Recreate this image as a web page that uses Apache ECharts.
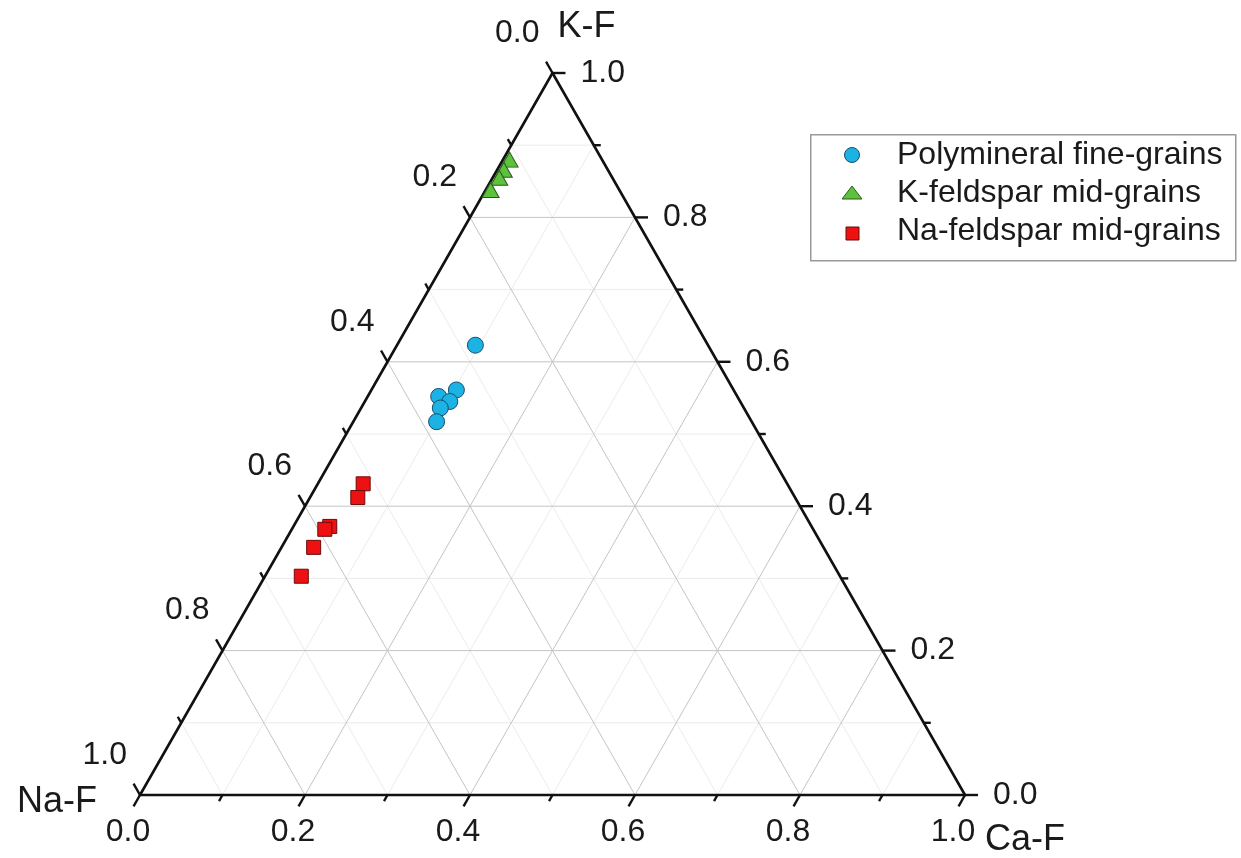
<!DOCTYPE html>
<html><head><meta charset="utf-8">
<script src="https://cdn.jsdelivr.net/npm/echarts@6/dist/echarts.min.js"></script>
<style>html,body{margin:0;padding:0;background:#fff}#c{width:1241px;height:858px}</style>
</head><body><div id="c"></div>
<script>
// Ternary data, each point as [K-F, Na-F, Ca-F]
const polymineral = [[0.623,0.282,0.095],[0.561,0.336,0.103],[0.552,0.362,0.086],[0.545,0.352,0.103],[0.536,0.368,0.096],[0.517,0.382,0.101]];
const kFeldspar = [[0.880,0.112,0.008],[0.866,0.126,0.008],[0.855,0.137,0.008],[0.838,0.156,0.006]];
const naFeldspar = [[0.431,0.514,0.055],[0.412,0.530,0.058],[0.372,0.584,0.044],[0.368,0.592,0.040],[0.343,0.618,0.039],[0.303,0.653,0.044]];
const seriesNames = ['Polymineral fine-grains','K-feldspar mid-grains','Na-feldspar mid-grains'];
const axisTitles = ['K-F','Na-F','Ca-F'];
const tickValues = [0,0.2,0.4,0.6,0.8,1.0];
const tickLabels = ['0.0','0.2','0.4','0.6','0.8','1.0'];
const minorValues = [0.1,0.3,0.5,0.7,0.9];
const gridMajor = [0.2,0.4,0.6,0.8];
const seriesColors = ['#1cb2e4','#5cc23c','#ee1111'];
const seriesBorders = ['#16506e','#2a5a1a','#6a0a0a'];

const FONT = "'Liberation Sans', Arial, sans-serif";
function toXY(k, ca){ return [ca + k/2, k]; }
function toData(arr){ return arr.map(p => toXY(p[0], p[2])); }

const chart = echarts.init(document.getElementById('c'), null, {renderer:'canvas'});

function renderFrame(params, api){
  const P = (k, ca) => api.coord(toXY(k, ca));
  const ch = [];
  const line = (a, b, style) => ch.push({type:'line', shape:{x1:a[0],y1:a[1],x2:b[0],y2:b[1]}, style});
  const text = (x, y, t, align, size) => ch.push({type:'text', x:x, y:y, style:{text:t, fill:'#1a1a1a', fontSize:size, fontFamily:FONT, align:align, verticalAlign:'middle'}});
  const norm = (a, b) => { const dx=b[0]-a[0], dy=b[1]-a[1], l=Math.hypot(dx,dy); return [dx/l, dy/l]; };
  const A = P(0,0), B = P(0,1), C = P(1,0);
  const dBottom = norm(C, A), dRight = norm(A, B), dLeft = norm(B, C);
  const minorStyle = {stroke:'#ececec', lineWidth:1};
  const majorStyle = {stroke:'#c4c4c4', lineWidth:1};
  const drawFamily = (v, style) => {
    line(P(v,0), P(v,1-v), style);        // constant K
    line(P(0,v), P(1-v,v), style);        // constant Ca
    line(P(0,1-v), P(1-v,0), style);      // constant Na
  };
  minorValues.forEach(v => drawFamily(v, minorStyle));
  gridMajor.forEach(v => drawFamily(v, majorStyle));
  const edge = {stroke:'#111', lineWidth:2.6, lineCap:'round'};
  line(A, B, edge); line(B, C, edge); line(C, A, edge);
  const tick = (pt, d, len) => line(pt, [pt[0]+d[0]*len, pt[1]+d[1]*len], {stroke:'#111', lineWidth:2.4});
  tickValues.forEach((v, i) => {
    const pb = P(0, v); tick(pb, dBottom, 13);
    text(pb[0]-12, pb[1]+37, tickLabels[i], 'center', 32);
    const pr = P(v, 1-v); tick(pr, dRight, 13);
    text(pr[0]+28, pr[1], tickLabels[i], 'left', 32);
    const pl = P(1-v, 0); tick(pl, dLeft, 13);
    text(pl[0]-13, pl[1]-40, tickLabels[i], 'right', 32);
  });
  minorValues.forEach(v => {
    tick(P(0, v), dBottom, 7);
    tick(P(v, 1-v), dRight, 7);
    tick(P(1-v, 0), dLeft, 7);
  });
  text(C[0]+5, C[1]-46, axisTitles[0], 'left', 36);
  text(A[0]-43, A[1]+7, axisTitles[1], 'right', 36);
  text(B[0]+20, B[1]+45, axisTitles[2], 'left', 36);
  return {type:'group', children:ch};
}

// Legend box (drawn as graphic elements)
const legendRowsY = [155, 193, 231];
const legendGraphic = [
  {type:'rect', left:810, top:134, shape:{x:0,y:0,width:425,height:126}, style:{fill:'#fff', stroke:'#9a9a9a', lineWidth:1.5}, z:10},
  {type:'circle', shape:{cx:852, cy:legendRowsY[0], r:7.5}, style:{fill:seriesColors[0], stroke:seriesBorders[0], lineWidth:1}, z:11},
  {type:'polygon', shape:{points:[[842,legendRowsY[1]+6],[862,legendRowsY[1]+6],[852,legendRowsY[1]-7]]}, style:{fill:seriesColors[1], stroke:seriesBorders[1], lineWidth:1}, z:11},
  {type:'rect', shape:{x:846, y:legendRowsY[2]-4, width:13, height:13}, style:{fill:seriesColors[2], stroke:seriesBorders[2], lineWidth:1}, z:11}
].concat(seriesNames.map((n, i) => ({type:'text', x:897, y:legendRowsY[i], style:{text:n, fill:'#1a1a1a', fontSize:32, fontFamily:FONT, align:'left', verticalAlign:'middle'}, z:11})));

const option = {
  animation:false,
  backgroundColor:'#fff',
  grid:{left:140, top:73, width:825, height:722},
  xAxis:{type:'value', min:0, max:1, show:false},
  yAxis:{type:'value', min:0, max:1, show:false},
  graphic: legendGraphic,
  series:[
    {type:'custom', coordinateSystem:'cartesian2d', data:[[0,0]], renderItem:renderFrame, silent:true, clip:false, z:1},
    {type:'scatter', name:seriesNames[0], data:toData(polymineral), symbol:'circle', symbolSize:16, z:3,
      itemStyle:{color:seriesColors[0], borderColor:seriesBorders[0], borderWidth:1, opacity:1}},
    {type:'scatter', name:seriesNames[1], data:toData(kFeldspar), symbol:'triangle', symbolSize:[17,15], z:3,
      itemStyle:{color:seriesColors[1], borderColor:seriesBorders[1], borderWidth:1, opacity:1}},
    {type:'scatter', name:seriesNames[2], data:toData(naFeldspar), symbol:'rect', symbolSize:14, z:3,
      itemStyle:{color:seriesColors[2], borderColor:seriesBorders[2], borderWidth:1, opacity:1}}
  ]
};
chart.setOption(option);
</script></body></html>
